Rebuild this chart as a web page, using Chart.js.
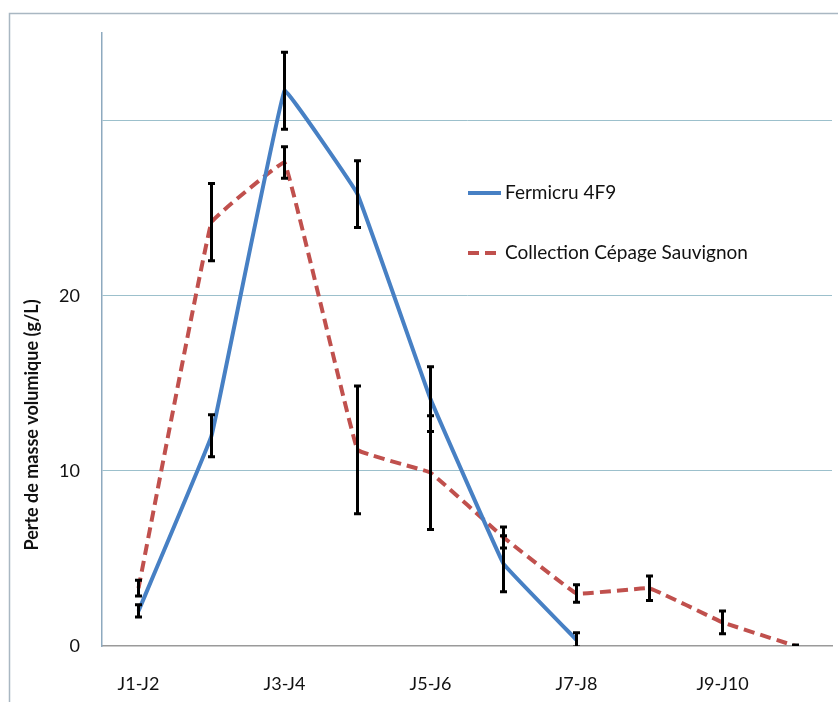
<!DOCTYPE html>
<html>
<head>
<meta charset="utf-8">
<script src="https://cdn.jsdelivr.net/npm/chart.js@4/dist/chart.umd.min.js"></script>
<style>
  html, body { margin: 0; padding: 0; background: #fff; }
  #wrap { width: 838px; height: 702px; position: relative; }
</style>
</head>
<body>
<div id="wrap"><canvas id="c" width="838" height="702"></canvas></div>
<script>
// Daily periods of fermentation
const periods = ['J1-J2', 'J2-J3', 'J3-J4', 'J4-J5', 'J5-J6', 'J6-J7', 'J7-J8', 'J8-J9', 'J9-J10', 'J10-J11'];

// Loss of density (g/L) per period, with standard deviations
const fermicru     = [2.0, 12.0, 31.7, 25.8, 14.1, 4.7, 0.35, null, null, null];
const fermicruErr  = [0.35, 1.2, 2.2, 1.9, 1.85, 1.6, 0.4, null, null, null];
const sauvignon    = [3.3, 24.2, 27.6, 11.2, 9.9, 6.2, 3.0, 3.3, 1.35, 0.0];
const sauvignonErr = [0.45, 2.2, 0.9, 3.65, 3.25, 0.6, 0.5, 0.7, 0.65, 0.05];

const seriesNames = ['Fermicru 4F9', 'Collection Cépage Sauvignon'];
const yTicks = [0, 10, 20, 30];
const yTickLabels = ['0', '10', '20', ''];
const yTitle = 'Perte de masse volumique (g/L)';

const FONT = 'Lato, "Open Sans", sans-serif';
const errorSets = [fermicruErr, sauvignonErr];

// Vertical error bars with caps, drawn right after each series
const errorBars = {
  id: 'errorBars',
  afterDatasetDraw(chart, args) {
    const errs = errorSets[args.index];
    const data = chart.data.datasets[args.index].data;
    const x = chart.scales.x, y = chart.scales.y;
    const ctx = chart.ctx, area = chart.chartArea;
    ctx.save();
    ctx.beginPath();
    ctx.rect(area.left, area.top - 10, area.right - area.left, area.bottom - area.top + 10);
    ctx.clip();
    ctx.strokeStyle = '#000';
    ctx.lineWidth = 3;
    ctx.lineCap = 'butt';
    data.forEach((v, i) => {
      if (v === null || errs[i] === null) return;
      const px = x.getPixelForValue(i);
      const top = y.getPixelForValue(v + errs[i]);
      const bot = y.getPixelForValue(v - errs[i]);
      ctx.beginPath();
      ctx.moveTo(px, top); ctx.lineTo(px, bot);
      ctx.moveTo(px - 3.5, top); ctx.lineTo(px + 3.5, top);
      ctx.moveTo(px - 3.5, bot); ctx.lineTo(px + 3.5, bot);
      ctx.stroke();
    });
    ctx.restore();
  }
};

// Outer frame, rotated axis title and the in-plot legend
const decorations = {
  id: 'decorations',
  beforeDraw(chart) {
    const ctx = chart.ctx;
    ctx.save();
    ctx.strokeStyle = '#a9b7c2';
    ctx.lineWidth = 1.5;
    ctx.strokeRect(9.5, 13.5, 900, 900);
    ctx.restore();
  },
  afterDraw(chart) {
    const ctx = chart.ctx;
    ctx.save();
    ctx.fillStyle = '#111';
    ctx.font = 'bold 18px ' + FONT;
    ctx.textAlign = 'center';
    ctx.textBaseline = 'middle';
    ctx.translate(32, 425);
    ctx.rotate(-Math.PI / 2);
    ctx.fillText(yTitle, 0, 0);
    ctx.restore();

    const rows = [193, 253];
    chart.data.datasets.forEach((ds, i) => {
      const yy = rows[i];
      ctx.save();
      ctx.strokeStyle = ds.borderColor;
      ctx.lineWidth = ds.borderWidth;
      ctx.setLineDash(ds.borderDash || []);
      ctx.beginPath();
      ctx.moveTo(468, yy); ctx.lineTo(501, yy);
      ctx.stroke();
      ctx.setLineDash([]);
      ctx.fillStyle = '#111';
      ctx.font = '19px ' + FONT;
      ctx.textAlign = 'left';
      ctx.textBaseline = 'middle';
      ctx.fillText(ds.label, 505, yy);
      ctx.restore();
    });
  }
};

new Chart(document.getElementById('c'), {
  type: 'line',
  data: {
    labels: periods,
    datasets: [
      {
        label: seriesNames[0],
        data: fermicru,
        borderColor: '#4780c4',
        borderWidth: 4,
        pointRadius: 0,
        tension: 0.05,
        spanGaps: false
      },
      {
        label: seriesNames[1],
        data: sauvignon,
        borderColor: '#c0504d',
        borderWidth: 4,
        borderDash: [11, 6],
        pointRadius: 0,
        tension: 0.05
      }
    ]
  },
  options: {
    responsive: false,
    animation: false,
    layout: { padding: { left: 0, right: 6, top: 33, bottom: 0 } },
    plugins: { legend: { display: false }, tooltip: { enabled: false } },
    scales: {
      x: {
        offset: true,
        grid: { display: false, drawTicks: false },
        border: { display: true, color: '#9a9a9a', width: 1.5 },
        ticks: {
          autoSkip: false,
          maxRotation: 0,
          padding: 27,
          color: '#111',
          font: { family: FONT, size: 18 },
          callback: (v, i) => (i % 2 === 0 ? periods[i] : '')
        },
        afterFit: s => { s.height = 56; }
      },
      y: {
        min: 0,
        max: 35,
        afterBuildTicks: s => { s.ticks = yTicks.map(v => ({ value: v })); },
        grid: {
          drawTicks: false,
          lineWidth: 1,
          color: c => (c.tick && c.tick.value === 0 ? 'rgba(0,0,0,0)' : '#9cc0cc')
        },
        border: { display: true, color: '#8eaabf', width: 1.5 },
        ticks: {
          padding: 22,
          color: '#111',
          font: { family: FONT, size: 18 },
          callback: (v, i) => yTickLabels[yTicks.indexOf(v)]
        },
        afterFit: s => { s.width = 102; }
      }
    }
  },
  plugins: [errorBars, decorations]
});
</script>
</body>
</html>
